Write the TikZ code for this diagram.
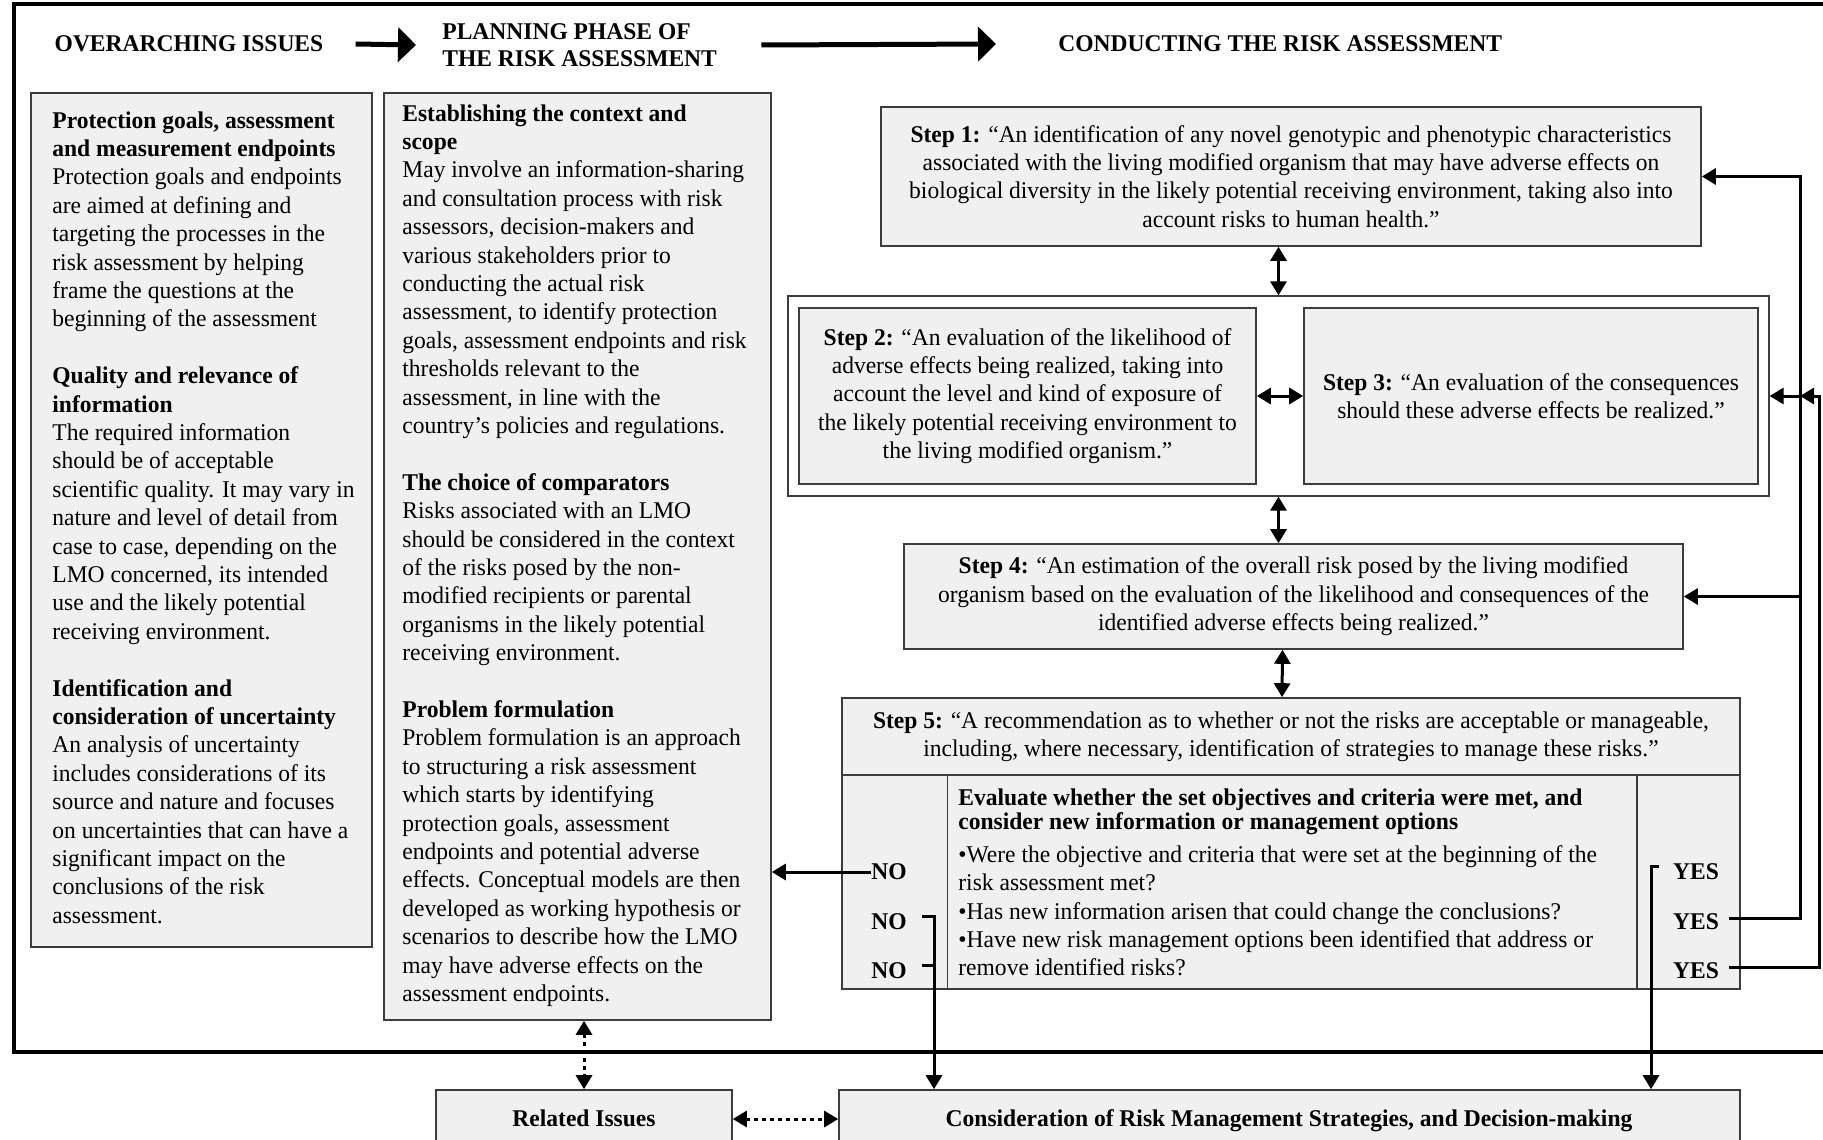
\documentclass[tikz,border=0pt]{standalone}
\usepackage{fontspec}
\setmainfont{Liberation Serif}[FakeStretch=0.98]
\usetikzlibrary{arrows.meta,fit,calc}
\definecolor{boxgray}{RGB}{240,240,240}
\definecolor{edgegray}{RGB}{60,60,60}
\begin{document}
\begin{tikzpicture}[x=0.5pt,y=-0.5pt,
  box/.style={draw=edgegray, line width=0.8pt, fill=boxgray, inner sep=0pt},
  plain/.style={draw=edgegray, line width=0.6pt, fill=white, inner sep=0pt},
  txt/.style={inner sep=0pt, font=\fontsize{12}{14.2}\selectfont},
  hdr/.style={inner sep=0pt, font=\fontsize{12}{13.5}\selectfont\bfseries},
  conn/.style={line width=1.5pt},
  arr/.style={conn,-{Triangle[length=7pt,width=8pt]}},
  dbl/.style={conn,{Triangle[length=7pt,width=8pt]}-{Triangle[length=7pt,width=8pt]}},
  dotarr/.style={conn, dash pattern=on 2pt off 2pt, {Triangle[length=7pt,width=8pt]}-{Triangle[length=7pt,width=8pt]}},
  bigarr/.style={line width=2.5pt,-{Triangle[length=9pt,width=17pt]}},
]
\useasboundingbox (0,0) rectangle (1823,1139);
\fill[white] (0,0) rectangle (1823,1139);

% outer frame
\draw[line width=2pt] (1830,4) -- (14,4) -- (14,1052) -- (1830,1052);

% headers
\node[hdr] (h1) at (189,44) {OVERARCHING ISSUES};
\node[hdr, align=left, anchor=west] (h2) at (442,45) {PLANNING PHASE OF\\THE RISK ASSESSMENT};
\node[hdr, anchor=west] (h3) at (1058,44) {CONDUCTING THE RISK ASSESSMENT};
\draw[bigarr] ([xshift=16pt]h1.east) -- ([xshift=-13pt]h2.west);
\draw[bigarr] ([xshift=22pt]h2.east) -- ([xshift=-31pt]h3.west);

% left column
\node[box, fit={(31,93) (372,947)}] (lbox) {};
\node[txt, anchor=north west, align=left] (ltext) at (52,111) {%
\textbf{Protection goals, assessment}\\
\textbf{and measurement endpoints}\\
Protection goals and endpoints\\
are aimed at defining and\\
targeting the processes in the\\
risk assessment by helping\\
frame the questions at the\\
beginning of the assessment\\[14.2pt]
\textbf{Quality and relevance of}\\
\textbf{information}\\
The required information\\
should be of acceptable\\
scientific quality. It may vary in\\
nature and level of detail from\\
case to case, depending on the\\
LMO concerned, its intended\\
use and the likely potential\\
receiving environment.\\[14.2pt]
\textbf{Identification and}\\
\textbf{consideration of uncertainty}\\
An analysis of uncertainty\\
includes considerations of its\\
source and nature and focuses\\
on uncertainties that can have a\\
significant impact on the\\
conclusions of the risk\\
assessment.};

% middle column
\node[box, fit={(384,93) (771,1020)}] (mid) {};
\node[txt, anchor=north west, align=left] (mtext) at (402,104) {%
\textbf{Establishing the context and}\\
\textbf{scope}\\
May involve an information-sharing\\
and consultation process with risk\\
assessors, decision-makers and\\
various stakeholders prior to\\
conducting the actual risk\\
assessment, to identify protection\\
goals, assessment endpoints and risk\\
thresholds relevant to the\\
assessment, in line with the\\
country’s policies and regulations.\\[14.2pt]
\textbf{The choice of comparators}\\
Risks associated with an LMO\\
should be considered in the context\\
of the risks posed by the non-\\
modified recipients or parental\\
organisms in the likely potential\\
receiving environment.\\[14.2pt]
\textbf{Problem formulation}\\
Problem formulation is an approach\\
to structuring a risk assessment\\
which starts by identifying\\
protection goals, assessment\\
endpoints and potential adverse\\
effects. Conceptual models are then\\
developed as working hypothesis or\\
scenarios to describe how the LMO\\
may have adverse effects on the\\
assessment endpoints.};

% steps
\node[box, fit={(881,107) (1701,246)}] (s1) {};
\node[txt, align=center] (s1t) at (s1.center) {\textbf{Step 1:} “An identification of any novel genotypic and phenotypic characteristics\\
associated with the living modified organism that may have adverse effects on\\
biological diversity in the likely potential receiving environment, taking also into\\
account risks to human health.”};

\node[plain, fit={(788,296) (1769,496)}] (s23) {};
\node[box, fit={(799,308) (1256,484)}] (s2) {};
\node[txt, align=center] (s2t) at (s2.center) {\textbf{Step 2:} “An evaluation of the likelihood of\\
adverse effects being realized, taking into\\
account the level and kind of exposure of\\
the likely potential receiving environment to\\
the living modified organism.”};
\node[box, fit={(1304,308) (1758,484)}] (s3) {};
\node[txt, align=center] (s3t) at (s3.center) {\textbf{Step 3:} “An evaluation of the consequences\\
should these adverse effects be realized.”};

\node[box, fit={(904,544) (1683,649)}] (s4) {};
\node[txt, align=center] (s4t) at (s4.center) {\textbf{Step 4:} “An estimation of the overall risk posed by the living modified\\
organism based on the evaluation of the likelihood and consequences of the\\
identified adverse effects being realized.”};

\node[box, fit={(842,698) (1740,989)}] (s5) {};
\draw[edgegray, line width=0.8pt] (842,775) -- (1740,775);
\draw[edgegray, line width=0.8pt] (947.5,775) -- (947.5,989);
\draw[edgegray, line width=0.8pt] (1637,775) -- (1637,989);
\node[txt, align=center] (s5t) at (1291,736.5) {\textbf{Step 5:} “A recommendation as to whether or not the risks are acceptable or manageable,\\
including, where necessary, identification of strategies to manage these risks.”};
\node[inner sep=0pt, font=\fontsize{12}{10.2}\selectfont\bfseries, anchor=north west, align=left] (evalh) at (958,788) {Evaluate whether the set objectives and criteria were met, and\\
consider new information or management options};
\node[txt, anchor=north west, align=left] (evalq) at (958,845) {•Were the objective and criteria that were set at the beginning of the\\
risk assessment met?\\
•Has new information arisen that could change the conclusions?\\
•Have new risk management options been identified that address or\\
remove identified risks?};

\node[hdr] (no1) at (889,872) {NO};
\node[hdr] (no2) at (889,922) {NO};
\node[hdr] (no3) at (889,971) {NO};
\node[hdr] (yes1) at (1696,872) {YES};
\node[hdr] (yes2) at (1696,922) {YES};
\node[hdr] (yes3) at (1696,971) {YES};

% bottom boxes
\node[box, fit={(436,1090) (732,1148)}] (rel) {};
\node[hdr, anchor=base] (relt) at (584,1126) {Related Issues};
\node[box, fit={(839,1090) (1740,1148)}] (cons) {};
\node[hdr, anchor=base] (const) at (1289,1126) {Consideration of Risk Management Strategies, and Decision-making};

% step connectors
\draw[dbl] (s23.north |- s1.south) -- (s23.north);
\draw[dbl] (s2.east) -- (s3.west);
\draw[dbl] (s23.south) -- (s23.south |- s4.north);
\draw[dbl] ($(s4.south)+(-11,0)$) -- ($(s5.north)+(-9,0)$);

% NO / YES connectors
\coordinate (nox) at (934,0);
\coordinate (yesx) at (1651,0);
\coordinate (ret1x) at (1800,0);
\coordinate (ret2x) at (1819,0);
\draw[arr] (no1.west) -- (no1.west -| mid.east);
\draw[arr] ($(no2.east)+(15,-6)$) -| (nox |- cons.north);
\draw[conn] ($(no3.east)+(15,-6)$) -| (nox |- no2.east);
\draw[arr] ($(yes1.west)+(-14,-6)$) -| (yesx |- cons.north);
\draw[arr] ($(yes2.east)+(10,-4)$) -| (ret1x |- s1.east) -- (s1.east);
\draw[arr] (ret1x |- s4.east) -- (s4.east);
\draw[arr] (ret1x |- s23.east) -- (s23.east);
\draw[arr] ($(yes3.east)+(10,-4)$) -| (ret2x |- s23.east) -- (ret1x |- s23.east);

% dotted links
\draw[dotarr] (rel.north |- mid.south) -- (rel.north);
\draw[dotarr] (rel.east) -- (cons.west);
\end{tikzpicture}
\end{document}
